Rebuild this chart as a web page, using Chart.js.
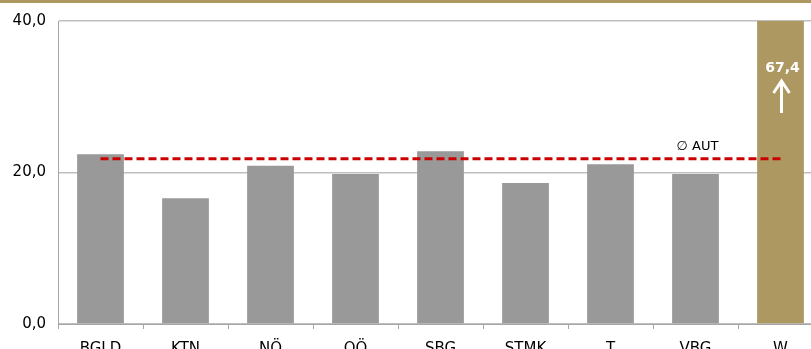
<!DOCTYPE html>
<html><head><meta charset="utf-8">
<script src="https://cdn.jsdelivr.net/npm/chart.js@4/dist/chart.umd.min.js"></script>
<style>
html,body{margin:0;padding:0;overflow:hidden;background:#fff;width:811px;height:349px}
#band{position:absolute;left:0;top:0;width:811px;height:3px;background:#AD9861}
#wrap{position:absolute;left:0;top:0;width:840px;height:349px}
</style></head>
<body>
<div id="wrap"><canvas id="c" width="840" height="349"></canvas></div>
<div id="band"></div>
<script>
const categories = ["BGLD","KTN","NÖ","OÖ","SBG","STMK","T","VBG","W"];
const values = [22.4, 16.6, 20.9, 19.8, 22.8, 18.6, 21.1, 19.8, 67.4];
const average = [21.8, 21.8, 21.8, 21.8, 21.8, 21.8, 21.8, 21.8, 21.8];
const yTicks = [0, 20, 40];
const avgLabel = "\u2205 AUT";
const avgLabelIndex = 7;
const outlierIndex = 8;

const GRAY = "#999999", TAN = "#AD9861";
const fmt = v => v.toFixed(1).replace(".", ",");

const overlay = {
  id: "overlay",
  afterDatasetsDraw(chart) {
    const ctx = chart.ctx;
    const y = chart.scales.y;
    const lp = chart.getDatasetMeta(1).data[avgLabelIndex];
    ctx.save();
    ctx.fillStyle = "#000";
    ctx.font = "13px 'DejaVu Sans'";
    ctx.textAlign = "center";
    ctx.textBaseline = "bottom";
    ctx.fillText(avgLabel, lp.x + 2, lp.y - 6);
    const bp = chart.getDatasetMeta(0).data[outlierIndex];
    ctx.fillStyle = "#fff";
    ctx.strokeStyle = "#fff";
    ctx.font = "bold 14px 'DejaVu Sans'";
    ctx.textBaseline = "middle";
    ctx.fillText(fmt(values[outlierIndex]), bp.x + 2, y.top + 47);
    const x = bp.x + 1;
    ctx.lineWidth = 3;
    ctx.lineCap = "butt";
    ctx.beginPath();
    ctx.moveTo(x, y.top + 92); ctx.lineTo(x, y.top + 61);
    ctx.stroke();
    ctx.beginPath();
    ctx.moveTo(x - 8, y.top + 72); ctx.lineTo(x, y.top + 60); ctx.lineTo(x + 8, y.top + 72);
    ctx.stroke();
    ctx.restore();
  }
};

new Chart(document.getElementById("c"), {
  data: {
    labels: categories,
    datasets: [
      { type: "bar", data: values, order: 2,
        backgroundColor: values.map((v, i) => i === outlierIndex ? TAN : GRAY),
        barPercentage: 0.55, categoryPercentage: 1.0 },
      { type: "line", data: average, order: 1,
        borderColor: "#CC0000", borderWidth: 3, borderDash: [8, 4],
        pointRadius: 0, fill: false }
    ]
  },
  options: {
    responsive: false, animation: false,
    layout: { padding: { top: 18, right: 17, left: 0, bottom: 0 } },
    plugins: { legend: { display: false }, tooltip: { enabled: false } },
    scales: {
      x: {
        afterFit: s => { s.height = 25; },
        grid: { display: true, drawOnChartArea: false, drawTicks: true, tickLength: 5, color: "#A6A6A6", offset: true },
        border: { display: true, color: "#A6A6A6" },
        ticks: { color: "#000", font: { family: "'DejaVu Sans'", size: 15 }, padding: 11, maxRotation: 0 }
      },
      y: {
        min: 0, max: 40,
        afterFit: s => { s.width = 58; },
        afterBuildTicks: s => { s.ticks = yTicks.map(v => ({ value: v })); },
        grid: { color: "#BFBFBF", lineWidth: 1.5, drawTicks: false },
        border: { display: true, color: "#A6A6A6" },
        ticks: { color: "#000", font: { family: "'DejaVu Sans'", size: 15 }, padding: 12, callback: v => fmt(v) }
      }
    }
  },
  plugins: [overlay]
});
</script>
</body></html>
